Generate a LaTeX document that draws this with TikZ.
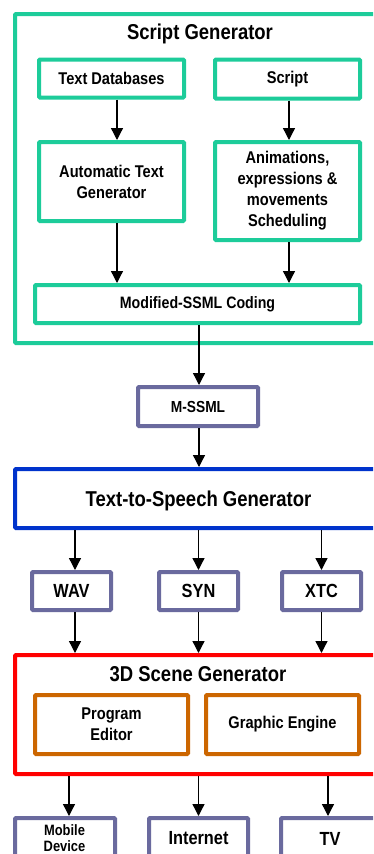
\documentclass[tikz,border=0pt]{standalone}
\usepackage{fontspec}
\setmainfont[FakeStretch=0.86]{Liberation Sans}
\usetikzlibrary{arrows.meta}
\definecolor{teal}{HTML}{1DCC9A}
\definecolor{slate}{HTML}{6A6A9E}
\definecolor{ttsblue}{HTML}{0033CC}
\definecolor{sred}{HTML}{FF0000}
\definecolor{sorange}{HTML}{CC6600}
\tikzset{
  box/.style={draw, line width=4pt, rounded corners=1pt, fill=white, align=center, inner sep=0pt,
    font=\fontsize{17}{21}\selectfont\bfseries},
  tealbox/.style={box, draw=teal},
  slatebox/.style={box, draw=slate},
  arr/.style={draw=black, line width=1.3pt, -{Triangle[length=12pt,width=12pt]}},
  lbl/.style={inner sep=0pt, align=center},
}
\begin{document}
\begin{tikzpicture}[x=1pt,y=-1pt]
\clip (0,0) rectangle (373,854);
\fill[white] (0,0) rectangle (373,854);
% Script generator
\node[box, draw=teal, minimum width=370, minimum height=329] (sg) at (200,178.5) {};
\node[lbl, font=\fontsize{21.5}{25}\selectfont\bfseries] (sgt) at (200,34) {Script Generator};
\node[tealbox, minimum width=145, minimum height=38] (tdb) at (111.5,78.5) {\raisebox{-1pt}{Text Databases}};
\node[tealbox, minimum width=145, minimum height=39] (scr) at (287.5,79) {\raisebox{-1pt}{Script}};
\node[tealbox, minimum width=145, minimum height=79] (atg) at (111.5,181.5) {Automatic Text\\Generator};
\node[tealbox, minimum width=145, minimum height=98] (ani) at (287.5,191) {Animations,\\expressions \&\\movements\\Scheduling};
\node[tealbox, minimum width=325, minimum height=38, font=\fontsize{16.5}{20}\selectfont\bfseries] (mod) at (197.5,304) {\raisebox{-1pt}{Modified-SSML Coding}};
\draw[arr] ([xshift=5.5pt]tdb.south) -- ([xshift=5.5pt]atg.north);
\draw[arr] ([xshift=1.5pt]scr.south) -- ([xshift=1.5pt]ani.north);
\draw[arr] ([xshift=5.5pt]atg.south) -- ([xshift=5.5pt]atg.south |- mod.north);
\draw[arr] ([xshift=1.5pt]ani.south) -- ([xshift=1.5pt]ani.south |- mod.north);
% M-SSML
\node[slatebox, minimum width=120, minimum height=39, font=\fontsize{16}{19}\selectfont\bfseries] (ms) at (198,406.5) {M-SSML};
\draw[arr] ([xshift=1.5pt]mod.south) -- ([xshift=1pt]ms.north);
% TTS
\node[box, draw=ttsblue, minimum width=370, minimum height=59] (tts) at (200,498.5) {};
\node[lbl, font=\fontsize{21.5}{25}\selectfont\bfseries] (ttst) at (198.5,500.5) {Text-to-Speech Generator};
\draw[arr] ([xshift=1pt]ms.south) -- ([xshift=1pt]ms.south |- tts.north);
\node[slatebox, minimum width=79, minimum height=38, font=\fontsize{19}{22}\selectfont\bfseries] (wav) at (71.5,591) {WAV};
\node[slatebox, minimum width=79, minimum height=38, font=\fontsize{19}{22}\selectfont\bfseries] (syn) at (198.5,591) {SYN};
\node[slatebox, minimum width=79, minimum height=38, font=\fontsize{19}{22}\selectfont\bfseries] (xtc) at (321.5,591) {XTC};
\draw[arr] ([xshift=3.5pt]wav.north |- tts.south) -- ([xshift=3.5pt]wav.north);
\draw[arr] (syn.north |- tts.south) -- (syn.north);
\draw[arr] (xtc.north |- tts.south) -- (xtc.north);
% 3D scene generator
\node[box, draw=sred, minimum width=370, minimum height=119] (sc) at (200,714.5) {};
\node[lbl, font=\fontsize{21.5}{25}\selectfont\bfseries] (sct) at (198,674.5) {3D Scene Generator};
\node[box, draw=sorange, minimum width=153, minimum height=59] (pe) at (111.5,724.5) {Program\\Editor};
\node[box, draw=sorange, minimum width=153, minimum height=59] (ge) at (282.5,724.5) {Graphic Engine};
\draw[arr] ([xshift=3.5pt]wav.south) -- ([xshift=3.5pt]wav.south |- sc.north);
\draw[arr] (syn.south) -- (syn.south |- sc.north);
\draw[arr] (xtc.south) -- (xtc.south |- sc.north);
% outputs
\node[slatebox, minimum width=100, minimum height=60] (mob) at (65,848) {};
\node[slatebox, minimum width=99, minimum height=60] (inet) at (198.5,848) {};
\node[slatebox, minimum width=100, minimum height=60] (tv) at (331,848) {};
\node[lbl, font=\fontsize{15}{16}\selectfont\bfseries] (mobt) at (64.5,838) {Mobile\\Device};
\node[lbl, font=\fontsize{19}{22}\selectfont\bfseries] (inett) at (198.5,838.5) {Internet};
\node[lbl, font=\fontsize{19}{22}\selectfont\bfseries] (tvt) at (330,838.5) {TV};
\draw[arr] ([xshift=4pt]mob.north |- sc.south) -- ([xshift=4pt]mob.north);
\draw[arr] (inet.north |- sc.south) -- (inet.north);
\draw[arr] ([xshift=-3pt]tv.north |- sc.south) -- ([xshift=-3pt]tv.north);
\end{tikzpicture}
\end{document}
